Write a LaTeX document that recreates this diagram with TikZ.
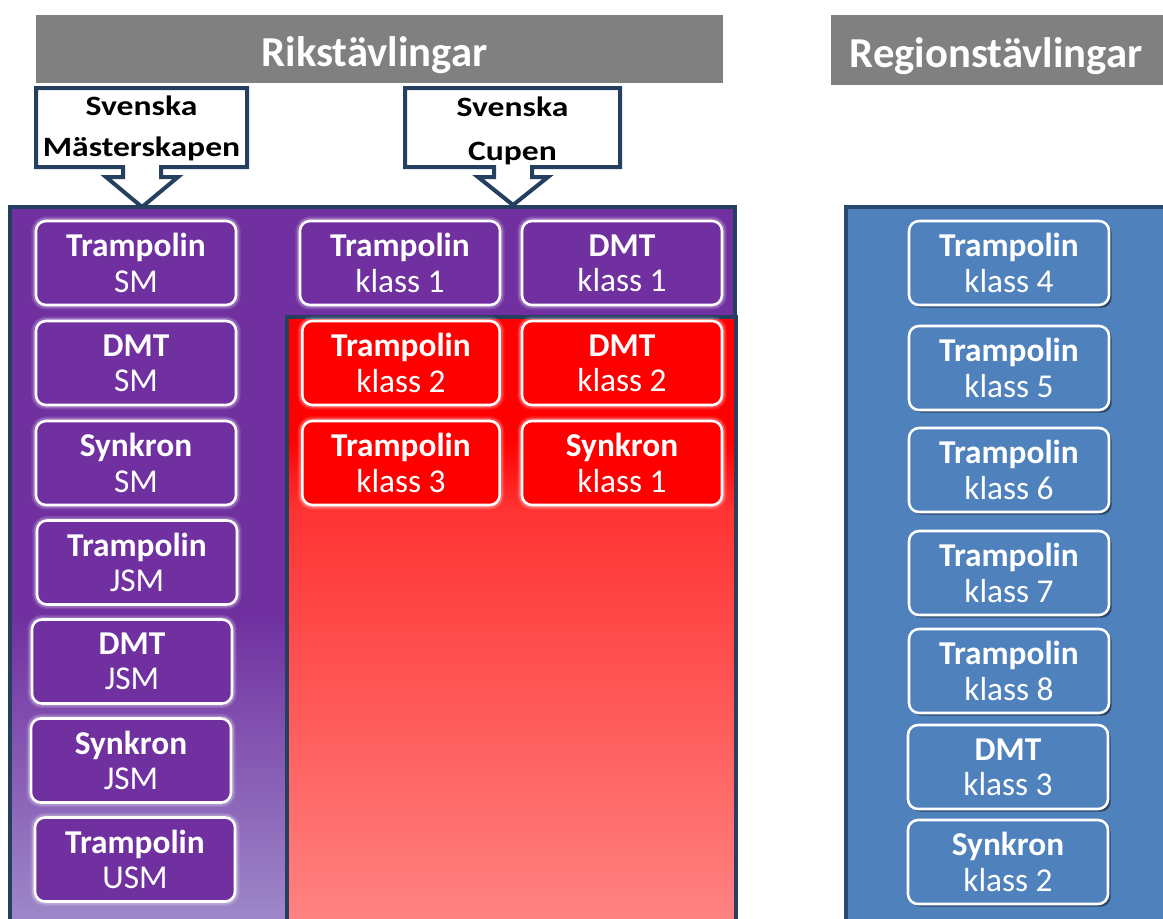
\documentclass[tikz,border=0pt]{standalone}
\usepackage{fontspec}
\setmainfont{Carlito}
\newfontfamily\callfont[FakeStretch=1.2]{Carlito}
\usetikzlibrary{shadows}
\definecolor{navy}{HTML}{243F60}
\definecolor{purp}{HTML}{7030A0}
\definecolor{lav}{HTML}{A08CCB}
\definecolor{bl}{HTML}{4F81BD}
\definecolor{gry}{HTML}{808080}
\definecolor{redlight}{HTML}{FF8282}
\definecolor{redmid}{HTML}{FF3333}
\pgfdeclareverticalshading{redsh}{100bp}{color(0bp)=(redlight); color(26.4bp)=(redlight); color(59.4bp)=(redmid); color(65bp)=(red); color(100bp)=(red)}
\pgfdeclareverticalshading{purpsh}{100bp}{color(0bp)=(lav); color(25bp)=(lav); color(47bp)=(purp); color(100bp)=(purp)}
\tikzset{
  panel/.style={draw=navy, line width=3pt},
  titlebar/.style={fill=gry, draw=none},
  titletext/.style={text=white, anchor=base, font=\bfseries\fontsize{32}{36}\selectfont},
  box/.style={rounded corners=7.5pt, draw=white, line width=1.9pt, minimum width=150pt, minimum height=63pt,
    text=white, align=center, font=\fontsize{25}{26.5}\selectfont, inner sep=0pt},
  glow/.style={preaction={draw=white, line width=7pt, opacity=0.12}, preaction={draw=white, line width=4.5pt, opacity=0.22}},
  pbox/.style={box, glow, fill=purp},
  rbox/.style={box, glow, fill=red},
  bbox/.style={box, fill=bl, drop shadow={shadow xshift=2pt, shadow yshift=-2pt, opacity=0.45, fill=black}},
  callout/.style={draw=navy, line width=3pt, fill=white, line join=miter},
  callouttext/.style={align=center, text=black, inner sep=0pt},
}
\begin{document}
\begin{tikzpicture}[x=0.75pt,y=-0.75pt]
\useasboundingbox (0,0) rectangle (1163,918);
% title bars
\fill[titlebar] (36,15) rectangle (723,83);
\node[titletext] (riks) at (374.5,66) {Rikstävlingar};
\fill[titlebar] (831,15) rectangle (1170,85);
\node[titletext] (region) at (996,67) {Regionstävlingar};
% panels
\path[panel, shading=purpsh] (10,207) rectangle (735,935);
\path[panel, shading=redsh] (287,317) rectangle (736,935);
\path[panel, fill=bl, draw=navy!85!bl] (846,207) rectangle (1175,935);
% left column
\node[pbox] (tsm)  at (136,263)   {\textbf{Trampolin}\\SM};
\node[pbox] (dsm)  at (136,363)   {\textbf{DMT}\\SM};
\node[pbox] (ssm)  at (136,463)   {\textbf{Synkron}\\SM};
\node[pbox] (tjsm) at (137,562.5) {\textbf{Trampolin}\\JSM};
\node[pbox] (djsm) at (132,661.5) {\textbf{DMT}\\JSM};
\node[pbox] (sjsm) at (131,760.5) {\textbf{Synkron}\\JSM};
\node[pbox] (tusm) at (135,859.5) {\textbf{Trampolin}\\USM};
% cup column
\node[pbox] (tk1) at (400,263) {\textbf{Trampolin}\\klass 1};
\node[pbox] (dk1) at (622,263) {\textbf{DMT}\\klass 1};
\node[rbox, minimum width=148pt] (tk2) at (401,363) {\textbf{Trampolin}\\klass 2};
\node[rbox] (dk2) at (622,363) {\textbf{DMT}\\klass 2};
\node[rbox, minimum width=148pt] (tk3) at (401,463) {\textbf{Trampolin}\\klass 3};
\node[rbox] (sk1) at (622,463) {\textbf{Synkron}\\klass 1};
% region column
\node[bbox] (tk4) at (1009,263) {\textbf{Trampolin}\\klass 4};
\node[bbox] (tk5) at (1009,368) {\textbf{Trampolin}\\klass 5};
\node[bbox] (tk6) at (1009,470) {\textbf{Trampolin}\\klass 6};
\node[bbox] (tk7) at (1009,573) {\textbf{Trampolin}\\klass 7};
\node[bbox] (tk8) at (1009,671) {\textbf{Trampolin}\\klass 8};
\node[bbox] (dk3) at (1008,767) {\textbf{DMT}\\klass 3};
\node[bbox] (sk2) at (1008,862) {\textbf{Synkron}\\klass 2};
% callouts
\draw[callout] (36,88) -- (247,88) -- (247,167) -- (161,167) -- (161,177) -- (178,177) -- (142,207)
  -- (106,177) -- (123,177) -- (123,167) -- (36,167) -- cycle;
\node[callouttext, font=\callfont\bfseries\fontsize{21}{30.75}\selectfont] (sm) at (141.5,128.5) {Svenska\\Mästerskapen};
\draw[callout] (405,88) -- (620,88) -- (620,167) -- (532,167) -- (532,177) -- (548,177) -- (513,205)
  -- (478,177) -- (494,177) -- (494,167) -- (405,167) -- cycle;
\node[callouttext, font=\callfont\bfseries\fontsize{21}{33}\selectfont] (sc) at (512.5,131) {Svenska\\Cupen};
\end{tikzpicture}
\end{document}
